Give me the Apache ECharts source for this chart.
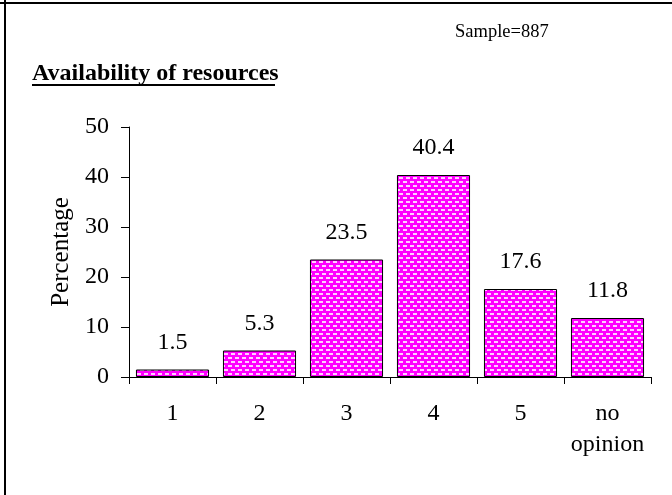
<!DOCTYPE html>
<html>
<head>
<meta charset="utf-8">
<script src="https://cdn.jsdelivr.net/npm/echarts@6/dist/echarts.min.js"></script>
<style>
  html, body { margin: 0; padding: 0; background: #fff; }
  #main { width: 672px; height: 495px; }
</style>
</head>
<body>
<div id="main"></div>
<script>
// data
var categories = ['1', '2', '3', '4', '5', 'no\nopinion'];
var percentages = [1.5, 5.3, 23.5, 40.4, 17.6, 11.8];
var yTicks = [0, 10, 20, 30, 40, 50];

var myChart = echarts.init(document.getElementById('main'));

// magenta fill with little white dashes (brick layout)
function makePattern() {
    var c = document.createElement('canvas');
    c.width = 7;
    c.height = 8;
    var ctx = c.getContext('2d');
    ctx.fillStyle = '#ff00ff';
    ctx.fillRect(0, 0, 7, 8);
    ctx.fillStyle = '#ffd0ff';
    ctx.fillRect(0, 1, 4, 2);
    ctx.fillRect(4, 5, 3, 2);
    ctx.fillRect(0, 5, 1, 2);
    return c;
}

var serif = '"Liberation Serif", "DejaVu Serif", serif';

var option = {
    backgroundColor: '#fff',
    animation: false,
    graphic: [
        // frame on top / left like the source slide
        { type: 'line', shape: { x1: 0, y1: 3, x2: 672, y2: 3 }, style: { stroke: '#000', lineWidth: 2 } },
        { type: 'line', shape: { x1: 5, y1: 0, x2: 5, y2: 495 }, style: { stroke: '#000', lineWidth: 2 } },
        {
            type: 'text', x: 32, y: 74,
            style: { text: 'Availability of resources', font: 'bold 24px ' + serif, fill: '#000', verticalAlign: 'middle' }
        },
        { type: 'line', shape: { x1: 32, y1: 85, x2: 275, y2: 85 }, style: { stroke: '#000', lineWidth: 2 } },
        {
            type: 'text', x: 455, y: 32,
            style: { text: 'Sample=887', font: '18.5px ' + serif, fill: '#000', verticalAlign: 'middle' }
        }
    ],
    grid: { left: 129, right: 21, top: 127, bottom: 118 },
    xAxis: {
        type: 'category',
        data: categories,
        axisLine: { lineStyle: { color: '#000', width: 1 } },
        axisTick: { show: true, length: 7, inside: false, lineStyle: { color: '#000' } },
        axisLabel: {
            color: '#000', fontFamily: serif, fontSize: 24, margin: 21, lineHeight: 31,
            interval: 0
        }
    },
    yAxis: {
        type: 'value',
        min: 0, max: 50, interval: 10,
        name: 'Percentage',
        nameLocation: 'middle',
        nameGap: 52,
        nameTextStyle: { color: '#000', fontFamily: serif, fontSize: 25 },
        axisLine: { show: true, lineStyle: { color: '#000' } },
        axisTick: { show: true, length: 8, lineStyle: { color: '#000' } },
        splitLine: { show: false },
        axisLabel: {
            color: '#000', fontFamily: serif, fontSize: 24, margin: 20,
            formatter: function (v) { return yTicks.indexOf(v) >= 0 ? String(v) : ''; }
        }
    },
    series: [{
        type: 'bar',
        data: percentages,
        barCategoryGap: '16%',
        itemStyle: {
            color: { image: makePattern(), repeat: 'repeat' },
            borderColor: '#000',
            borderWidth: 1
        },
        label: {
            show: true, position: 'top', distance: 15,
            color: '#000', fontFamily: serif, fontSize: 24,
            formatter: function (p) { return p.value.toFixed(1); }
        }
    }]
};

myChart.setOption(option);
</script>
</body>
</html>
